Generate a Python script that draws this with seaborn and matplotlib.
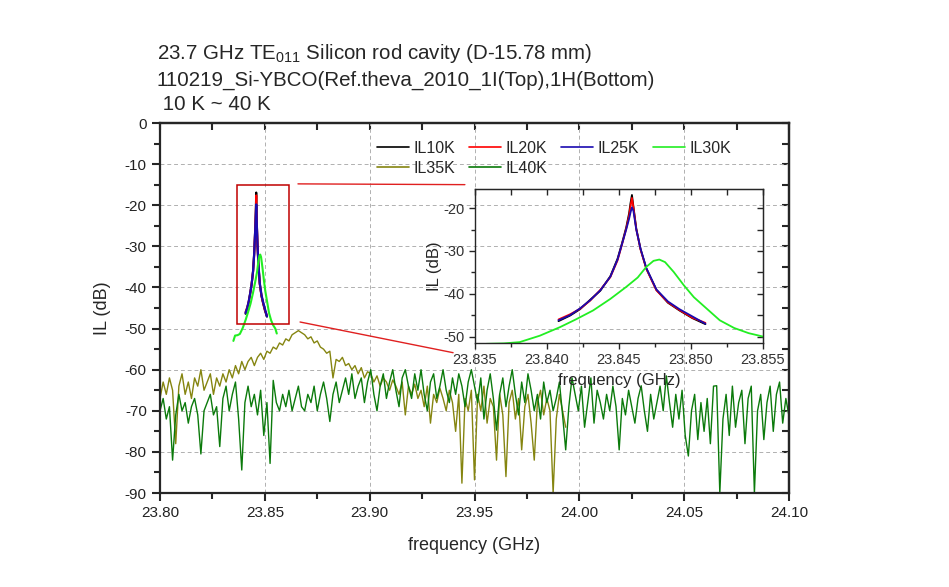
import numpy as np
import pandas as pd
import matplotlib
matplotlib.use('Agg')
import matplotlib.pyplot as plt
from matplotlib.patches import Rectangle, ConnectionPatch
from matplotlib.lines import Line2D
from matplotlib.ticker import MultipleLocator, FormatStrFormatter
import seaborn as sns

# ---- 数据 ----
series_names = ['IL10K', 'IL20K', 'IL25K', 'IL30K', 'IL35K', 'IL40K']
series_colors = ['#000000', '#FF0000', '#1A0AB0', '#22EE22', '#858510', '#0B7A0B']

# 10K / 20K / 25K resonance, same sweep points
res_freq = [23.8408, 23.8416, 23.8423, 23.8430, 23.8437, 23.8444, 23.8449, 23.8452, 23.8455,
            23.8457, 23.8458, 23.8459, 23.8460, 23.8462, 23.8465, 23.8469, 23.8476, 23.8484,
            23.8492, 23.8501, 23.8510]
il10 = [-46.4, -45.1, -43.6, -41.4, -39.3, -35.9, -31.8, -28.3, -24.5, -21.2, -18.8, -16.9,
        -19.5, -24.7, -29.6, -34.1, -39.1, -42.1, -43.9, -45.7, -47.1]
il20 = [-46.0, -44.8, -43.5, -41.6, -39.1, -36.1, -32.2, -28.6, -24.8, -21.8, -19.5, -17.6,
        -19.8, -24.9, -29.7, -34.2, -39.2, -42.0, -43.8, -45.6, -46.8]
il25 = [-46.2, -45.0, -43.4, -41.5, -39.2, -36.0, -32.0, -28.5, -25.0, -22.5, -21.0, -19.8,
        -20.6, -25.0, -29.5, -34.0, -39.0, -41.8, -43.6, -45.3, -47.0]

# 30K resonance
il30_freq = [23.8350, 23.8358, 23.8370, 23.8381, 23.8395, 23.8409, 23.8420, 23.8432, 23.8444,
             23.8455, 23.8463, 23.8469, 23.8474, 23.8478, 23.8482, 23.8488, 23.8495, 23.8502,
             23.8510, 23.8520, 23.8530, 23.8540, 23.8550, 23.8557]
il30 = [-53.0, -51.7, -51.6, -51.3, -49.8, -47.8, -46.0, -43.9, -41.2, -38.4, -36.2, -33.7,
        -32.3, -32.0, -32.6, -34.9, -38.0, -40.8, -43.2, -46.2, -48.0, -49.2, -50.0, -51.2]

# 35K wide sweep (23.800 ~ 23.9935 GHz)
il35_start, il35_stop = 23.800, 23.9935
il35 = [-67, -63, -66, -62, -65, -78, -64, -61, -66, -63, -67, -62, -64, -60, -65, -63, -61, -66, -62, -64,
        -61, -63, -60, -62, -59, -61, -58, -60, -58, -57, -59, -57, -56, -57.5, -55.5, -56, -54.5, -55, -53.5, -54,
        -52.5, -53, -51.5, -51, -50.5, -51, -51.5, -52.5, -52, -53.5, -53, -54.5, -55, -56, -55.5, -62, -57.5, -58, -57, -59,
        -58.5, -60, -59, -61, -59.5, -62, -60.5, -61, -63, -61.5, -64, -62, -63, -65, -62.5, -64, -66, -63, -71, -64,
        -66, -63.5, -67, -65, -69, -64, -73, -66, -68, -64.5, -67, -70, -65, -68, -75, -66, -87.6, -67, -70, -65,
        -86.8, -66, -70, -64, -73, -67, -69, -82, -66, -71, -86, -68, -65, -72, -67, -79.5, -69, -66, -73, -82,
        -68, -65, -71, -67, -70, -90, -72, -66, -70, -74]

# 40K wide sweep (23.80 ~ 24.10 GHz)
il40_start, il40_stop = 23.80, 24.10
il40 = [-70, -67, -72, -69, -82, -71, -66, -70, -68, -73, -69, -67, -71, -80.5, -70, -68, -66, -71, -69, -78.7,
        -67, -64, -70, -66, -63, -72, -84.4, -68, -64, -69, -66, -71, -65, -76, -68, -82.8, -62.6, -68, -70, -66,
        -69, -65, -70, -67, -64, -69, -70, -66, -68, -64, -70, -66, -63, -67, -72.6, -66, -63, -68, -65, -62,
        -66, -61, -67, -64, -62, -68, -63, -60, -66, -70, -64, -61, -67, -63, -60, -65, -69, -62, -60, -64,
        -67, -61, -65, -60, -66, -70, -63, -61, -67, -64, -60, -65, -68, -62, -66, -61, -64, -69, -63, -60,
        -64, -68, -62, -72, -65, -61, -67, -74.7, -66, -62, -69, -64, -60, -66, -71, -63, -68, -61, -65, -70,
        -66, -72, -63, -68, -65, -70, -67, -63, -71, -79.5, -69, -62, -66, -70, -64, -74, -68, -62, -73, -65,
        -68, -72, -66, -70, -64, -69, -79.5, -67, -71, -65, -69, -73, -67, -63.9, -70, -75, -66, -72, -68, -64,
        -70, -61.5, -68, -74, -66, -72, -65, -76, -81, -70, -66, -77, -68, -75, -67, -78, -64, -63.9, -90, -72,
        -66, -76, -64, -74, -68, -65, -78, -67, -64, -90, -70, -66, -77, -68, -64, -75, -66, -63, -73, -67, -71.3]

# 放大框 (zoom box) in main data coords
box_x = [23.8369, 23.8615]
box_y = [-49.0, -15.0]

# ---- 整理成DataFrame ----
frames = [
    pd.DataFrame({'freq': res_freq, 'IL': il10, 'series': 'IL10K'}),
    pd.DataFrame({'freq': res_freq, 'IL': il20, 'series': 'IL20K'}),
    pd.DataFrame({'freq': res_freq, 'IL': il25, 'series': 'IL25K'}),
    pd.DataFrame({'freq': il30_freq, 'IL': il30, 'series': 'IL30K'}),
    pd.DataFrame({'freq': np.linspace(il35_start, il35_stop, len(il35)), 'IL': il35, 'series': 'IL35K'}),
    pd.DataFrame({'freq': np.linspace(il40_start, il40_stop, len(il40)), 'IL': il40, 'series': 'IL40K'}),
]
data = pd.concat(frames, ignore_index=True)
palette = dict(zip(series_names, series_colors))
widths = {'IL10K': 1.5, 'IL20K': 1.5, 'IL25K': 1.6, 'IL30K': 1.5, 'IL35K': 1.0, 'IL40K': 1.0}

sns.set_style('ticks')
plt.rcParams['font.family'] = ['Liberation Sans', 'DejaVu Sans']
plt.rcParams['mathtext.default'] = 'regular'
plt.rcParams['axes.unicode_minus'] = False

fig = plt.figure(figsize=(9.49, 5.87), dpi=100)
ax = fig.add_axes([0.1686, 0.1601, 0.6628, 0.6303])

for name in series_names:
    sub = data[data['series'] == name]
    sns.lineplot(data=sub, x='freq', y='IL', color=palette[name], lw=widths[name],
                 estimator=None, sort=False, legend=False, ax=ax)

ax.set_xlim(23.80, 24.10)
ax.set_ylim(-90, 0)
ax.xaxis.set_major_locator(MultipleLocator(0.05))
ax.xaxis.set_minor_locator(MultipleLocator(0.025))
ax.yaxis.set_major_locator(MultipleLocator(10))
ax.yaxis.set_minor_locator(MultipleLocator(5))
ax.xaxis.set_major_formatter(FormatStrFormatter('%.2f'))
ax.grid(True, which='major', linestyle=(0, (4, 3)), color='#B0B0B0', linewidth=0.7)
ax.set_axisbelow(True)
for s in ax.spines.values():
    s.set_linewidth(1.6)
ax.tick_params(which='both', direction='out', width=1.5, labelsize=11, labelcolor='#222222')
ax.tick_params(which='major', length=6)
ax.tick_params(which='minor', length=4)

# 上/右 inward ticks
secx = ax.secondary_xaxis('top')
secx.xaxis.set_major_locator(MultipleLocator(0.05))
secx.xaxis.set_minor_locator(MultipleLocator(0.025))
secx.tick_params(which='both', direction='in', length=5, width=1.5, labeltop=False)
secy = ax.secondary_yaxis('right')
secy.yaxis.set_major_locator(MultipleLocator(10))
secy.yaxis.set_minor_locator(MultipleLocator(5))
secy.tick_params(which='both', direction='in', length=5, width=1.5, labelright=False)
for s in list(secx.spines.values()) + list(secy.spines.values()):
    s.set_linewidth(1.6)

ax.set_xlabel('frequency (GHz)', fontsize=13, labelpad=12)
ax.set_ylabel('IL (dB)', fontsize=13, labelpad=10)

# legend, row by row (matplotlib fills columns first)
leg_order = ['IL10K', 'IL35K', 'IL20K', 'IL40K', 'IL25K', 'IL30K']
handles = [Line2D([], [], color=palette[n], lw=1.2) for n in leg_order]
ax.legend(handles, leg_order, ncol=4, frameon=False, loc='upper left',
          bbox_to_anchor=(0.345, 0.952), borderaxespad=0, borderpad=0,
          handlelength=2.0, handletextpad=0.3, columnspacing=0.85,
          labelspacing=0.32, fontsize=11.5)

# 标题
fig.text(0.1654, 1 - 59 / 587, '23.7 GHz TE$_{011}$ Silicon rod cavity (D-15.78 mm)', fontsize=14.8)
fig.text(0.1654, 1 - 86 / 587, '110219_Si-YBCO(Ref.theva_2010_1I(Top),1H(Bottom)', fontsize=14.8)
fig.text(0.1654, 1 - 110 / 587, ' 10 K ~ 40 K', fontsize=14.8)

# 放大框
ax.add_patch(Rectangle((box_x[0], box_y[0]), box_x[1] - box_x[0], box_y[1] - box_y[0],
                       fill=False, edgecolor='#C00000', lw=1.1, zorder=5))

# ---- inset ----
axin = fig.add_axes([0.5005, 0.4157, 0.3035, 0.2624])
axin.patch.set_alpha(0)
for name in ['IL10K', 'IL20K', 'IL25K', 'IL30K']:
    sub = data[data['series'] == name]
    sns.lineplot(data=sub, x='freq', y='IL', color=palette[name], lw=1.3,
                 estimator=None, sort=False, legend=False, ax=axin)
axin.set_xlim(23.835, 23.855)
axin.set_ylim(-51.5, -15.5)
axin.xaxis.set_major_locator(MultipleLocator(0.005))
axin.xaxis.set_minor_locator(MultipleLocator(0.0025))
axin.yaxis.set_major_locator(MultipleLocator(10))
axin.yaxis.set_minor_locator(MultipleLocator(5))
axin.xaxis.set_major_formatter(FormatStrFormatter('%.3f'))
axin.grid(False)
for s in axin.spines.values():
    s.set_linewidth(1.0)
axin.tick_params(which='both', direction='out', width=1.0, labelsize=10.5, labelcolor='#333333')
axin.tick_params(which='major', length=4)
axin.tick_params(which='minor', length=3)
sx = axin.secondary_xaxis('top')
sx.xaxis.set_major_locator(MultipleLocator(0.005))
sx.xaxis.set_minor_locator(MultipleLocator(0.0025))
sx.tick_params(which='both', direction='in', length=4, width=1.0, labeltop=False)
sy = axin.secondary_yaxis('right')
sy.yaxis.set_major_locator(MultipleLocator(10))
sy.yaxis.set_minor_locator(MultipleLocator(5))
sy.tick_params(which='both', direction='in', length=4, width=1.0, labelright=False)
axin.set_xlabel('frequency (GHz)', fontsize=12, labelpad=4)
axin.set_ylabel('IL (dB)', fontsize=12, labelpad=1)

# 连接线
for xyA, xyB in [((23.8658, -14.8), (-0.035, 1.028)), ((23.8668, -48.4), (-0.076, -0.063))]:
    con = ConnectionPatch(xyA=xyA, coordsA=ax.transData, xyB=xyB, coordsB=axin.transAxes,
                          color='#E02020', lw=1.0)
    fig.add_artist(con)

plt.savefig('out.png', dpi=100)
